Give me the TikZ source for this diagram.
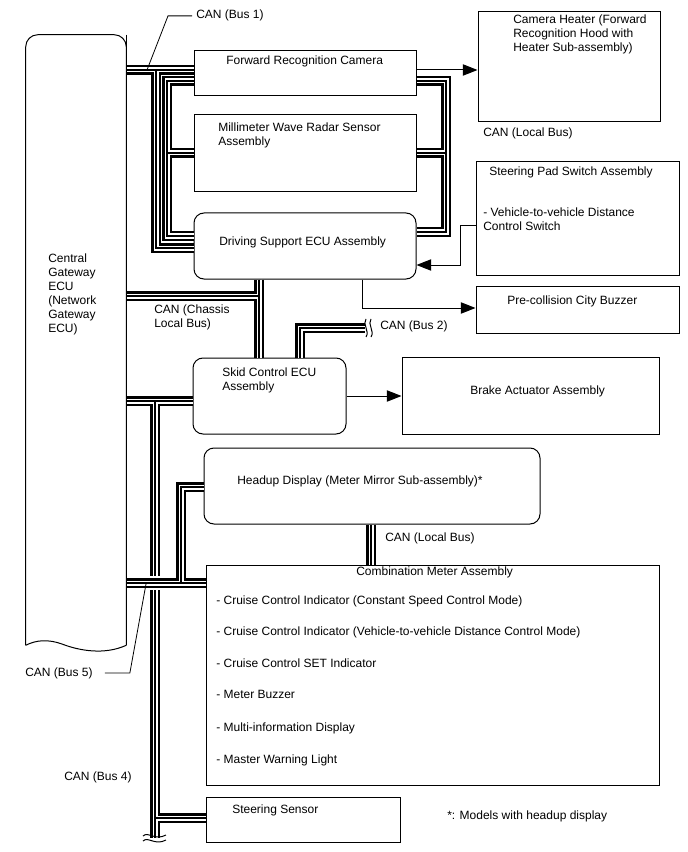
\documentclass[tikz,border=0pt]{standalone}
\usepackage{fontspec}
\setmainfont{Liberation Sans}
\usetikzlibrary{arrows.meta, positioning, fit, calc}

\tikzset{
  unit/.style={draw, line width=0.75pt, inner sep=0pt},
  ecu/.style={unit, rounded corners=7.5pt},
  txt/.style={font=\fontsize{9}{10.5}\selectfont, inner sep=0pt, anchor=base west, align=left},
  sig/.style={line width=0.75pt, -{Triangle[length=11pt, width=8.5pt]}},
  lead/.style={line width=0.6pt},
  brk/.style={line width=0.75pt}
}

\begin{document}
\begin{tikzpicture}[x=0.75pt, y=-0.75pt]
  \useasboundingbox (0,0) rectangle (688,852);

  % central gateway, open at the bottom
  \node[inner sep=0pt, fit={(26,35) (126,645)}] (gw) {};
  \draw[line width=0.75pt, rounded corners=9pt] (gw.south west) -- (gw.north west) -- (gw.north east) -- (gw.south east);
  \draw[line width=0.75pt] (gw.south east) .. controls (105,655) and (80,651) .. (62,644) .. controls (48,639) and (36,640) .. (gw.south west);
  % multi-line texts sit on their last line
  \node[txt] (gwT) at (48,332) {Central\\Gateway\\ECU\\(Network\\Gateway\\ECU)};

  % boxes
  \node[unit, fit={(194,51) (416,96)}] (cam) {};
  \node[unit, fit={(478,12) (660,122)}] (heat) {};
  \node[unit, fit={(194,115) (416,192)}] (rad) {};
  \node[ecu, fit={(194,213) (416,279)}] (ds) {};
  \node[unit, fit={(476,162) (679,275)}] (sp) {};
  \node[unit, fit={(476,286) (679,333)}] (buz) {};
  \node[ecu, fit={(193,358) (346,434)}] (sk) {};
  \node[unit, fit={(402,357) (659,434)}] (brk) {};
  \node[ecu, fit={(204,448) (540,524)}] (hud) {};
  \node[unit, fit={(206,565) (659,785)}] (cm) {};
  \node[unit, fit={(206,797) (400,842)}] (ss) {};

  % box texts
  \node[txt] (camT) at (226,65) {Forward Recognition Camera};
  \node[txt] (heatT) at (513,52) {Camera Heater (Forward\\Recognition Hood with\\Heater Sub-assembly)};
  \node[txt] (radT) at (218,146) {Millimeter Wave Radar Sensor\\Assembly};
  \node[txt] (dsT) at (219,245) {Driving Support ECU Assembly};
  \node[txt] (spT) at (489,176) {Steering Pad Switch Assembly};
  \node[txt] (spT2) at (483,231) {- Vehicle-to-vehicle Distance\\Control Switch};
  \node[txt] (buzT) at (507,304) {Pre-collision City Buzzer};
  \node[txt] (skT) at (222,390) {Skid Control ECU\\Assembly};
  \node[txt] (brkT) at (470,394) {Brake Actuator Assembly};
  \node[txt] (hudT) at (237,484) {Headup Display (Meter Mirror Sub-assembly)*};
  \node[txt] (cmT) at (356,575) {Combination Meter Assembly};
  \node[txt] (cm1) at (216,604) {- Cruise Control Indicator (Constant Speed Control Mode)};
  \node[txt] (cm2) at (216,635) {- Cruise Control Indicator (Vehicle-to-vehicle Distance Control Mode)};
  \node[txt] (cm3) at (216,667) {- Cruise Control SET Indicator};
  \node[txt] (cm4) at (216,698) {- Meter Buzzer};
  \node[txt] (cm5) at (216,731) {- Multi-information Display};
  \node[txt] (cm6) at (216,763) {- Master Warning Light};
  \node[txt] (ssT) at (232,813) {Steering Sensor};

  % bus texts
  \node[txt] (bus1T) at (196,19) {CAN (Bus 1)};
  \node[txt] (loc1T) at (483,137) {CAN (Local Bus)};
  \node[txt] (chT) at (154,327) {CAN (Chassis\\Local Bus)};
  \node[txt] (bus2T) at (380,329) {CAN (Bus 2)};
  \node[txt] (loc2T) at (385,541) {CAN (Local Bus)};
  \node[txt] (bus5T) at (25,676) {CAN (Bus 5)};
  \node[txt] (bus4T) at (64,780) {CAN (Bus 4)};
  \node[txt] (noteT) at (447,819) {*: Models with headup display};

  % CAN lines: black, white, then the thin middle line
  \foreach \w/\c in {7.5pt/black, 3.75pt/white, 1pt/black}{
    \draw[line width=\w, draw=\c]
      (gw.east |- 0,70) -- (cam.west |- 0,70)
      (156,70) -- (156,248) -- (ds.west |- 0,248)
      (cam.west |- 0,81) -- (167,81) -- (167,236) -- (ds.west |- 0,236)
      (167,153) -- (rad.west |- 0,153)
      (cam.east |- 0,81) -- (446,81) -- (446,232) -- (ds.east |- 0,232)
      (rad.east |- 0,153) -- (446,153)
      (gw.east |- 0,296) -- (259,296)
      (ds.south -| 259,0) -- (sk.north -| 259,0)
      (sk.north -| 300,0) -- (300,328) -- (365,328)
      (gw.east |- 0,401) -- (sk.west |- 0,401)
      (155,401) -- (155,838)
      (155,818) -- (ss.west |- 0,818)
      (hud.south -| 371,0) -- (cm.north -| 371,0);
  }
  % Bus 5 passes over Bus 4
  \draw[line width=10pt, white] (gw.east |- 0,583) -- (cm.west |- 0,583);
  \foreach \w/\c in {7.5pt/black, 3.75pt/white, 1pt/black}{
    \draw[line width=\w, draw=\c]
      (gw.east |- 0,583) -- (cm.west |- 0,583)
      (181,583) -- (181,487) -- (hud.west |- 0,487);
  }
  \draw[line width=0.75pt] (gw.north east) -- (gw.south east);

  % cut ends
  \draw[brk] (366,319) .. controls (362,324) and (370,331) .. (366,337)
             (371,319) .. controls (367,324) and (375,331) .. (371,337);
  \draw[brk] (143,836) .. controls (148,831) and (155,841) .. (166,835)
             (143,841) .. controls (148,836) and (155,846) .. (166,840);

  % leaders
  \coordinate (b1tap) at (147,70);
  \coordinate (b5tap) at (146,584);
  \draw[lead] ([xshift=-3pt]bus1T.west) -- ++(-24,0) -- (b1tap);
  \draw[lead] ([xshift=9pt]bus5T.east) -- ++(25,0) -- (b5tap);

  % signal lines
  \draw[sig] (cam.east |- 0,70) -- (heat.west |- 0,70);
  \draw[sig] (sp.west |- 0,226) -- ++(-15,0) |- (ds.east |- 0,265);
  \draw[sig] (ds.south -| 362,0) |- (buz.west |- 0,308);
  \draw[sig] (sk.east |- 0,396) -- (brk.west |- 0,396);
\end{tikzpicture}
\end{document}
